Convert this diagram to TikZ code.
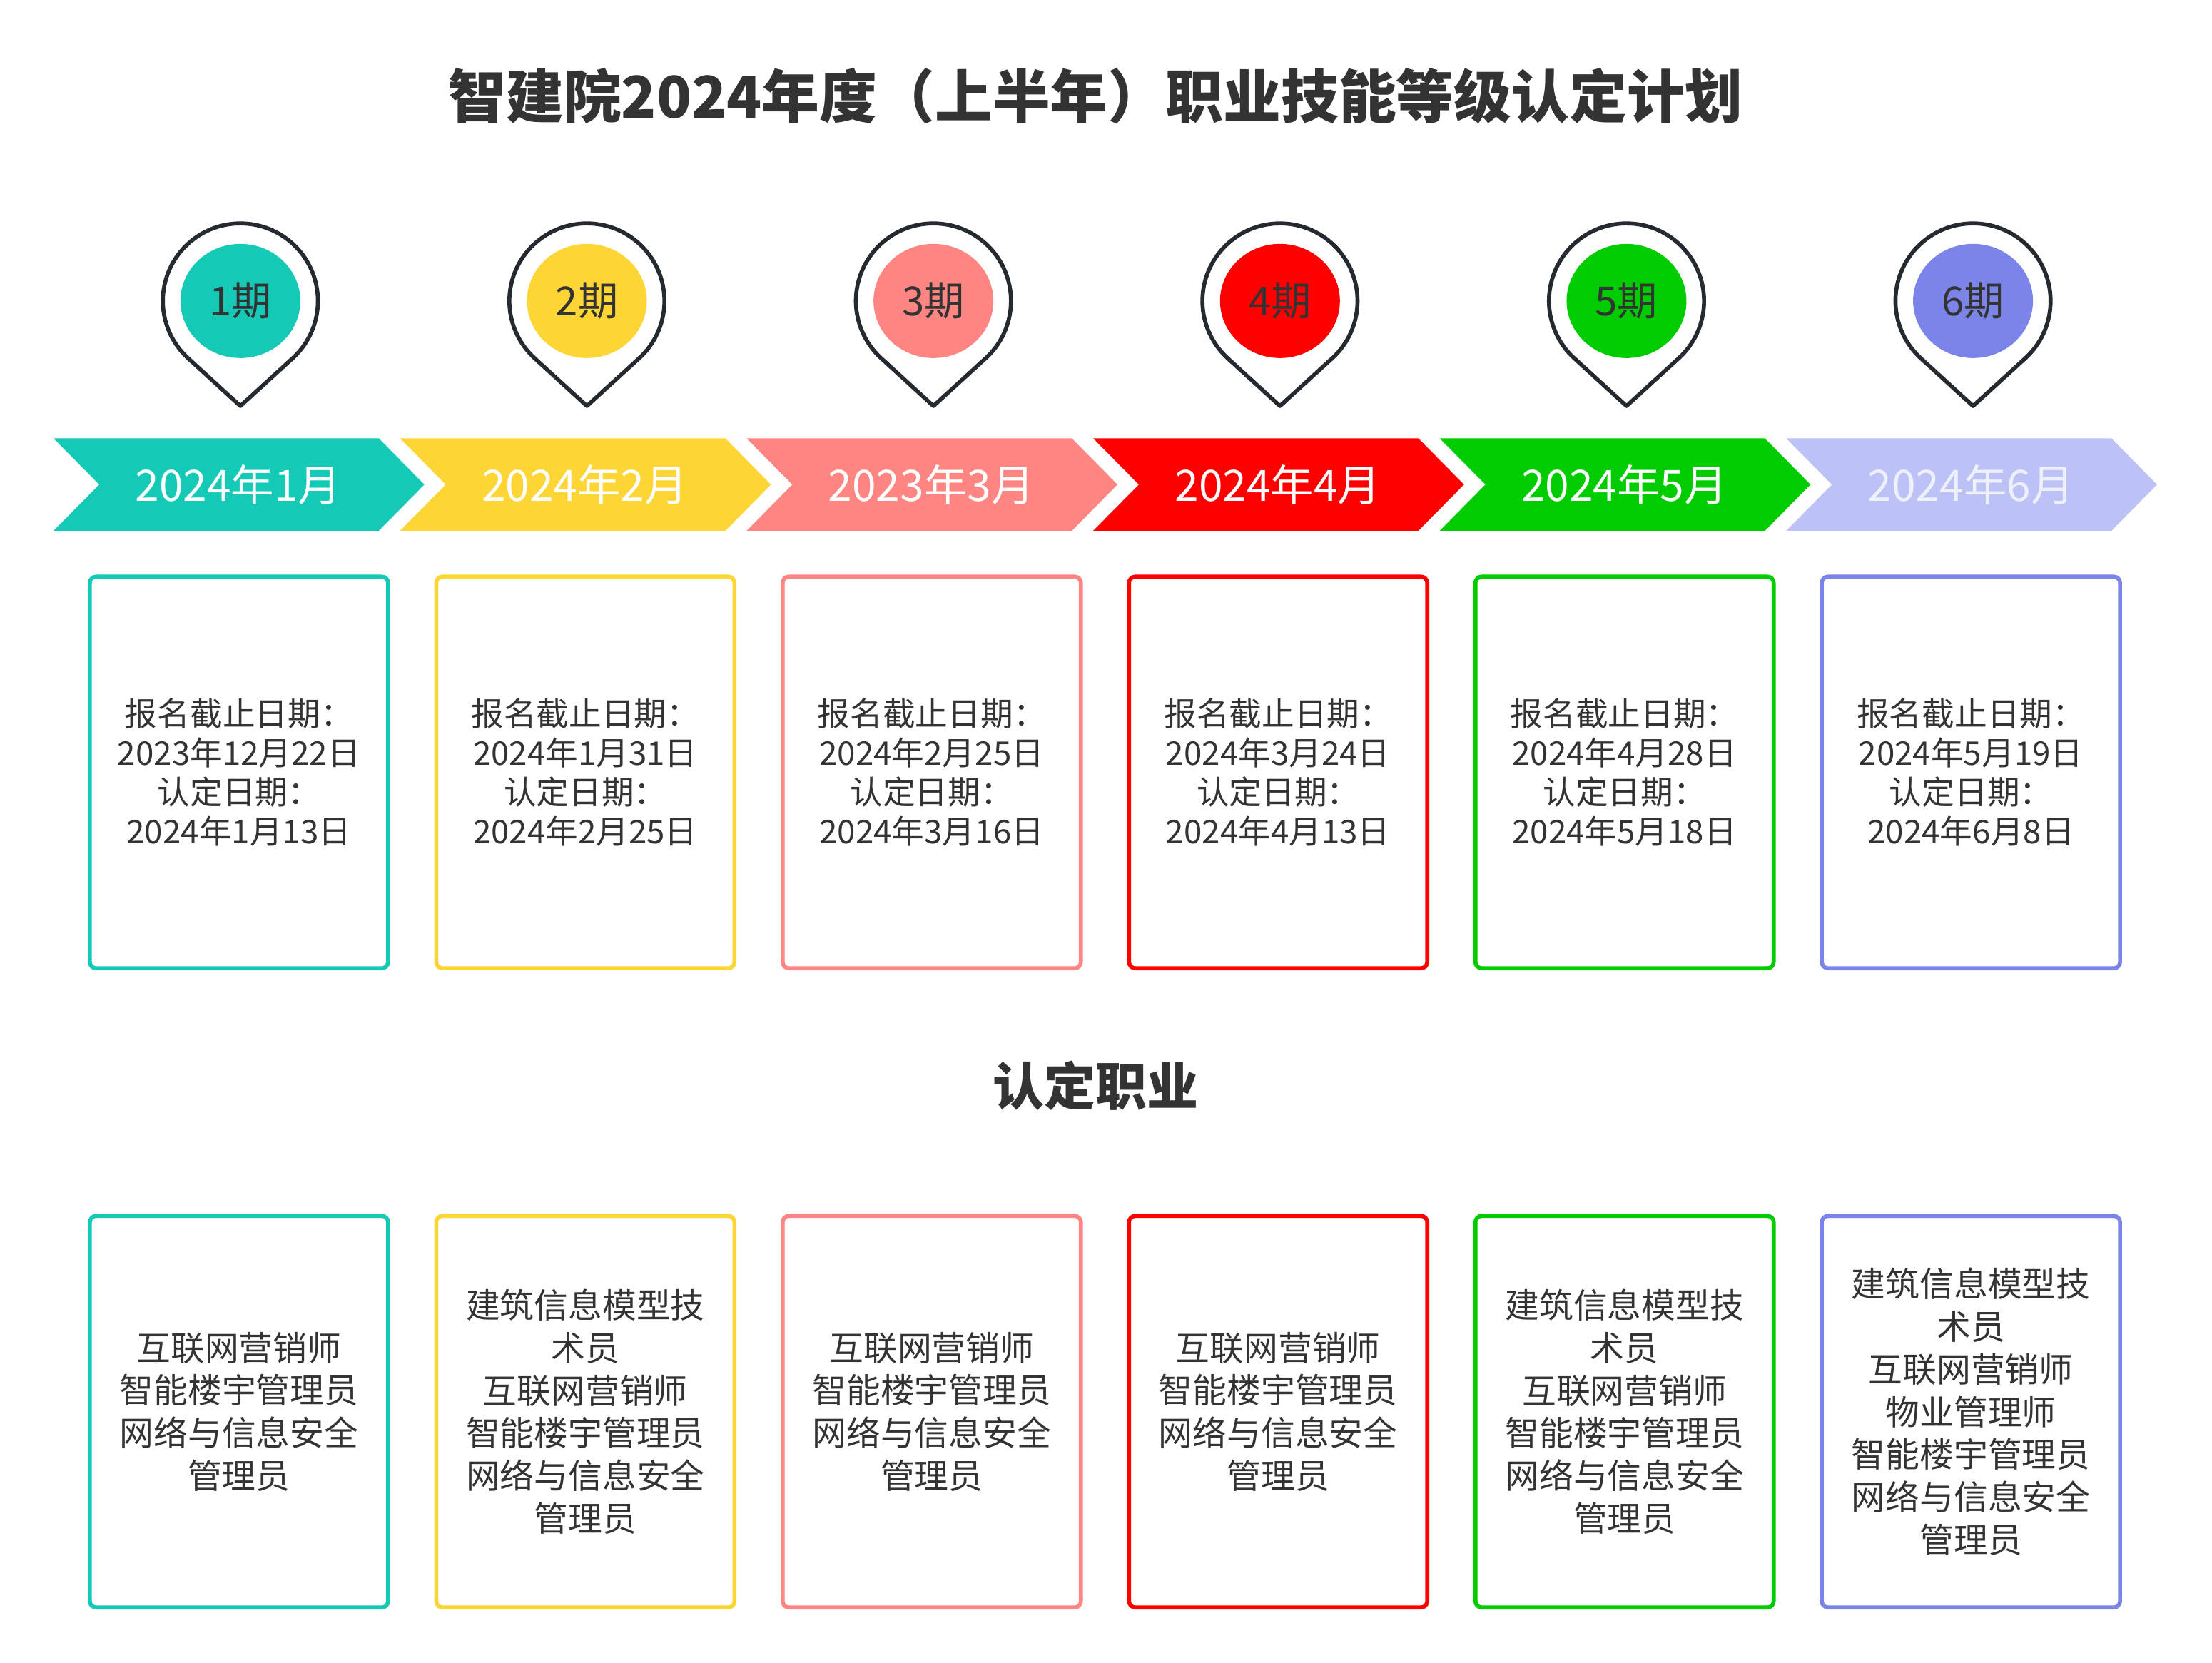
\documentclass[tikz,border=0pt]{standalone}
\usepackage{fontspec}
\setmainfont{Noto Sans CJK SC}
\begin{document}
\definecolor{c1}{HTML}{14C9B5}
\definecolor{c2}{HTML}{FDD535}
\definecolor{c3}{HTML}{FF8582}
\definecolor{c4}{HTML}{FF0000}
\definecolor{c5}{HTML}{00CC00}
\definecolor{c6}{HTML}{7B84E8}
\definecolor{c6l}{HTML}{BCC2F5}
\definecolor{ink}{HTML}{333333}
\definecolor{pinl}{HTML}{252A30}
\begin{tikzpicture}[x=0.019758cm,y=0.019758cm,
  box/.style={draw=#1,line width=1.6pt,rounded corners=2.5pt,minimum width=4.18cm,minimum height=5.49cm,fill=white,text=ink,align=center},
  toptext/.style={font=\fontsize{13pt}{15.6pt}\selectfont},
  bottext/.style={font=\fontsize{13.6pt}{17pt}\selectfont},
  pin/.style={draw=pinl,line width=1.6pt,fill=white,line join=round}]
\useasboundingbox (0,0) rectangle (1569,-1179.5);
\node[font=\bfseries\fontsize{23pt}{27pt}\selectfont,text=ink] (title) at (777,-68) {智建院2024年度（上半年）职业技能等级认定计划};
\node[font=\bfseries\fontsize{20.5pt}{24pt}\selectfont,text=ink] (sub) at (777,-770) {认定职业};
\foreach \i/\col/\ccol/\tcol/\mon/\reg/\dat/\job in {
 1/c1/c1/white/2024年1月/2023年12月22日/2024年1月13日/{互联网营销师\\智能楼宇管理员\\网络与信息安全\\管理员},
 2/c2/c2/white/2024年2月/2024年1月31日/2024年2月25日/{建筑信息模型技\\术员\\互联网营销师\\智能楼宇管理员\\网络与信息安全\\管理员},
 3/c3/c3/white/2023年3月/2024年2月25日/2024年3月16日/{互联网营销师\\智能楼宇管理员\\网络与信息安全\\管理员},
 4/c4/c4/white/2024年4月/2024年3月24日/2024年4月13日/{互联网营销师\\智能楼宇管理员\\网络与信息安全\\管理员},
 5/c5/c5/white/2024年5月/2024年4月28日/2024年5月18日/{建筑信息模型技\\术员\\互联网营销师\\智能楼宇管理员\\网络与信息安全\\管理员},
 6/c6/c6l/white!75!c6l/2024年6月/2024年5月19日/2024年6月8日/{建筑信息模型技\\术员\\互联网营销师\\物业管理师\\智能楼宇管理员\\网络与信息安全\\管理员}}{
  \pgfmathsetmacro{\xo}{38+245.8*(\i-1)}
  \pgfmathsetmacro{\cx}{170.5+245.8*(\i-1)}
  \pgfmathsetmacro{\bx}{169.5+245.7*(\i-1)}
  % chevron
  \fill[\ccol] (\xo,-311) -- ++(230.7,0) -- ++(32.3,-32.75) -- ++(-32.3,-32.75) -- ++(-230.7,0) -- ++(32.4,32.75) -- cycle;
  \node[text=\tcol,font=\fontsize{17.2pt}{20pt}\selectfont] (m\i) at (\xo+131,-343.75) {\mon};
  % pin
  \coordinate (pc\i) at (\cx,-213.5);
  \coordinate (tip\i) at (\cx,-288);
  \draw[pin] ([shift={(-47.6:1.087cm)}]pc\i) arc[start angle=-47.6,end angle=227.6,radius=1.087cm] -- (tip\i) -- cycle;
  \fill[\col] (\cx,-213.5) circle[x radius=0.84cm,y radius=0.80cm];
  \node[text=ink,font=\fontsize{16pt}{19pt}\selectfont] (p\i) at (\cx,-213.5) {\i 期};
  % boxes
  \node[box=\col,toptext] (b\i) at (\bx,-548) {报名截止日期：\\\reg\\认定日期：\\\dat};
  \node[box=\col,bottext] (j\i) at (\bx,-1001.5) {\job};
}
\end{tikzpicture}
\end{document}
